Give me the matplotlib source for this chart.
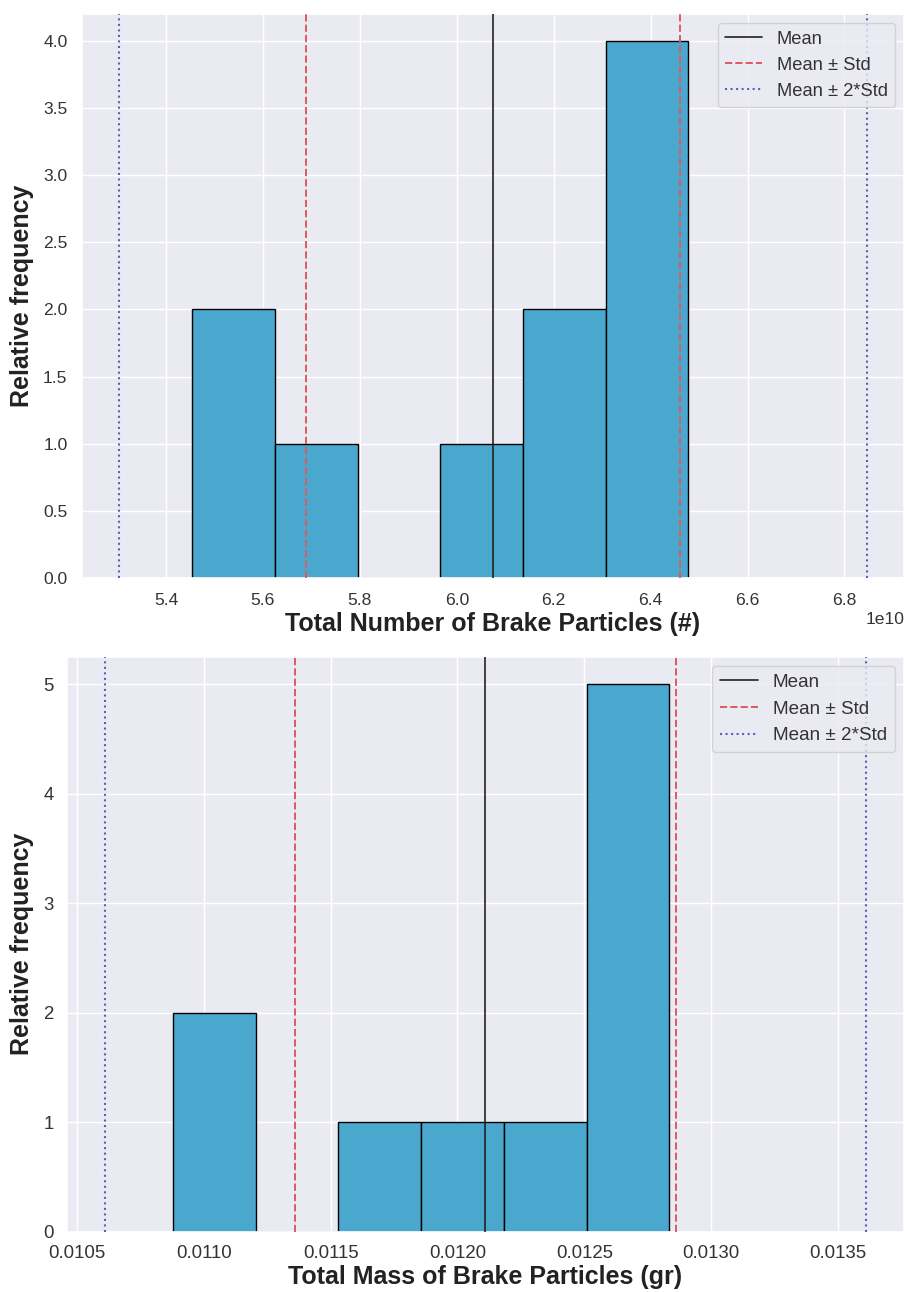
import numpy as np
import matplotlib
matplotlib.use("Agg")
import matplotlib.pyplot as plt
import seaborn as sns

# ---- data ----
num_bin_edges = [5.4544e10, 5.6249e10, 5.7954e10, 5.9659e10, 6.1364e10, 6.3069e10, 6.4774e10]
num_counts = [2, 1, 0, 1, 2, 4]
num_mean = 6.0747e10
num_std = 0.3855e10

mass_bin_edges = [0.010879, 0.011205, 0.011531, 0.011857, 0.012183, 0.012509, 0.012835]
mass_counts = [2, 0, 1, 1, 1, 5]
mass_mean = 0.01211
mass_std = 0.00075

xlabels = ["Total Number of Brake Particles (#)", "Total Mass of Brake Particles (gr)"]
ylabel = "Relative frequency"
legend_labels = ["Mean", "Mean \u00b1 Std", "Mean \u00b1 2*Std"]

sns.set_theme(style="darkgrid")
plt.rcParams["font.family"] = ["Liberation Sans", "DejaVu Sans"]

BAR_COLOR = "#4aa8ce"
RED = "#dd5a5e"
BLUE = "#5f5fb8"

fig = plt.figure(figsize=(9.07, 12.92), dpi=100)

W, H = 907.0, 1292.0
# axes boxes in pixels: left, top, right, bottom
boxes = [(82, 14, 904, 578), (66.7, 656.7, 904, 1231.7)]
tick_sizes = [12.6, 13.4]
tick_pads = [10.5, 9.3]
legend_sizes = [13.2, 13.6]

datasets = [(num_bin_edges, num_counts, num_mean, num_std),
            (mass_bin_edges, mass_counts, mass_mean, mass_std)]

for i, ((edges, counts, mean, std), (l, t, r, b)) in enumerate(zip(datasets, boxes)):
    ax = fig.add_axes([l / W, 1 - b / H, (r - l) / W, (b - t) / H])
    edges = np.array(edges)
    ax.bar(edges[:-1], counts, width=np.diff(edges), align="edge",
           color=BAR_COLOR, edgecolor="black", linewidth=1.0, zorder=2)
    h1 = ax.axvline(mean, color="#222222", linewidth=1.2, zorder=3)
    h2 = ax.axvline(mean - std, color=RED, linestyle="--", linewidth=1.4, zorder=3)
    ax.axvline(mean + std, color=RED, linestyle="--", linewidth=1.4, zorder=3)
    h3 = ax.axvline(mean - 2 * std, color=BLUE, linestyle=":", linewidth=1.5, zorder=3)
    ax.axvline(mean + 2 * std, color=BLUE, linestyle=":", linewidth=1.5, zorder=3)

    lo, hi = mean - 2 * std, mean + 2 * std
    span = hi - lo
    ax.set_xlim(lo - 0.05 * span, hi + 0.05 * span)
    ax.set_ylim(0, max(counts) * 1.05)

    ax.tick_params(axis="both", length=0, labelsize=tick_sizes[i], pad=tick_pads[i],
                   colors="#333333")
    ax.xaxis.get_offset_text().set_fontsize(tick_sizes[i])
    ax.xaxis.get_offset_text().set_color("#333333")

    ax.set_xlabel(xlabels[i], fontsize=18, fontweight="bold", color="#222222")
    ax.set_ylabel(ylabel, fontsize=18, fontweight="bold", color="#222222")
    ax.yaxis.set_label_coords((34 - l) / (r - l), 0.5)
    ax.xaxis.set_label_coords(0.5, -((612 if i == 0 else 1265) - b) / (b - t))

    leg = ax.legend([h1, h2, h3], legend_labels, loc="upper right",
                    fontsize=legend_sizes[i], frameon=True)
    for txt in leg.get_texts():
        txt.set_color("#333333")

fig.savefig("out.png", dpi=100)
